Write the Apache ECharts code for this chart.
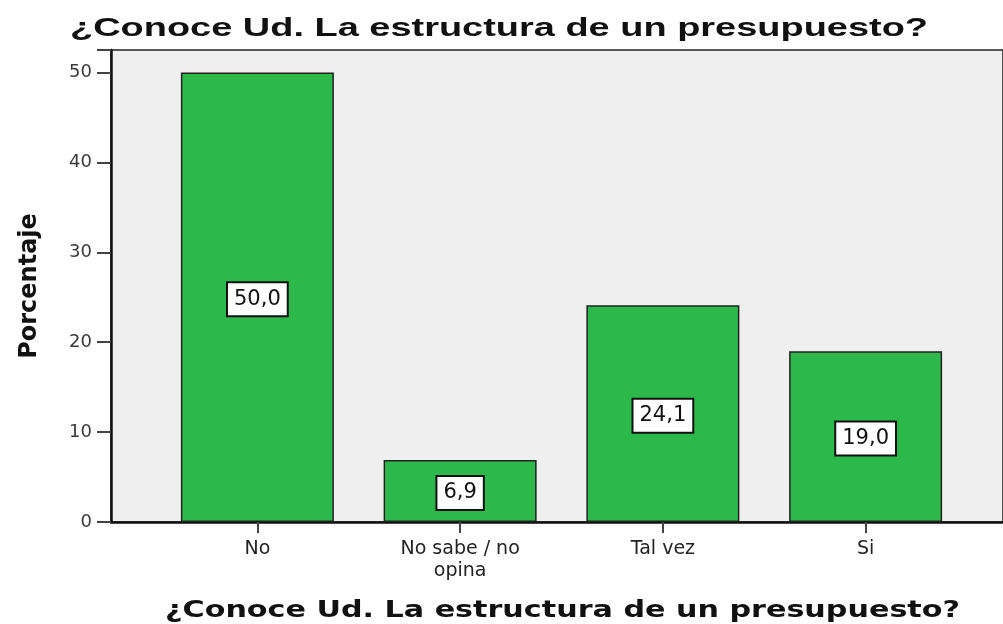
<!DOCTYPE html>
<html><head><meta charset="utf-8">
<script src="https://cdn.jsdelivr.net/npm/echarts@6/dist/echarts.min.js"></script>
<style>html,body{margin:0;padding:0;background:#fff}#c{width:1003px;height:624px}</style>
</head><body><div id="c"></div>
<script>
const categories = ['No', 'No sabe / no\nopina', 'Tal vez', 'Si'];
const values = [50.0, 6.9, 24.1, 19.0];
const yTicks = [0, 10, 20, 30, 40, 50];
const titleText = '¿Conoce Ud. La estructura de un presupuesto?';
const xName = '¿Conoce Ud. La estructura de un presupuesto?';
const yName = 'Porcentaje';

// horizontal stretch so the wide headings span the same width as in the reference
function stretch(text, font, target) {
  const ctx = document.createElement('canvas').getContext('2d');
  ctx.font = font;
  return target / ctx.measureText(text).width;
}
const titleFont = 'bold 26px "Liberation Sans"';
const xNameFont = 'bold 23px "DejaVu Sans"';

const chart = echarts.init(document.getElementById('c'));
chart.setOption({
  animation: false,
  graphic: [
    {type: 'text', x: 70, y: 28.5, scaleX: stretch(titleText, titleFont, 858),
     style: {text: titleText, font: titleFont, fill: '#111', textAlign: 'left', textVerticalAlign: 'middle'}},
    {type: 'text', x: 165, y: 611.5, scaleX: stretch(xName, xNameFont, 795),
     style: {text: xName, font: xNameFont, fill: '#111', textAlign: 'left', textVerticalAlign: 'middle'}}
  ],
  grid: [
    {left: 111, top: 50, width: 901, bottom: 102, show: true, backgroundColor: '#efefef', borderColor: '#222', borderWidth: 1.5},
    {left: 156, top: 50, width: 811, bottom: 102}
  ],
  xAxis: [
    {type: 'value', gridIndex: 0, min: 0, max: 1, axisLine: {show: true, lineStyle: {color: '#111', width: 2.5}},
     axisTick: {show: false}, axisLabel: {show: false}, splitLine: {show: false}},
    {type: 'category', gridIndex: 1, data: categories, axisLine: {show: false},
     axisTick: {show: true, alignWithLabel: true, length: 11, lineStyle: {color: '#444', width: 2}},
     axisLabel: {fontFamily: 'DejaVu Sans', fontSize: 19, color: '#222', margin: 16, lineHeight: 22}}
  ],
  yAxis: [
    {type: 'value', gridIndex: 0, min: 0, max: 52.5, interval: 10,
     axisLine: {show: true, lineStyle: {color: '#111', width: 2.5}},
     axisTick: {show: true, length: 14, lineStyle: {color: '#444', width: 2}},
     axisLabel: {fontFamily: 'DejaVu Sans', fontSize: 18, color: '#3a3a3a', margin: 19,
       formatter: v => yTicks.indexOf(v) >= 0 ? String(v) : ''},
     splitLine: {show: false},
     name: yName, nameLocation: 'middle', nameGap: 69, nameRotate: 90,
     nameTextStyle: {fontFamily: 'DejaVu Sans', fontWeight: 'bold', fontSize: 24, color: '#111'}},
    {type: 'value', gridIndex: 1, min: 0, max: 52.5, show: false, splitLine: {show: false}}
  ],
  series: [{
    type: 'bar', xAxisIndex: 1, yAxisIndex: 1, data: values, barWidth: 153,
    itemStyle: {color: '#2db84b', borderColor: '#222', borderWidth: 1.5},
    label: {show: true, position: 'inside', offset: [0, 2], formatter: p => p.value.toFixed(1).replace('.', ','),
      fontFamily: 'DejaVu Sans', fontSize: 21, color: '#111', backgroundColor: '#fff',
      borderColor: '#111', borderWidth: 2, padding: [6, 6, 5, 6]}
  }]
});
</script></body></html>
